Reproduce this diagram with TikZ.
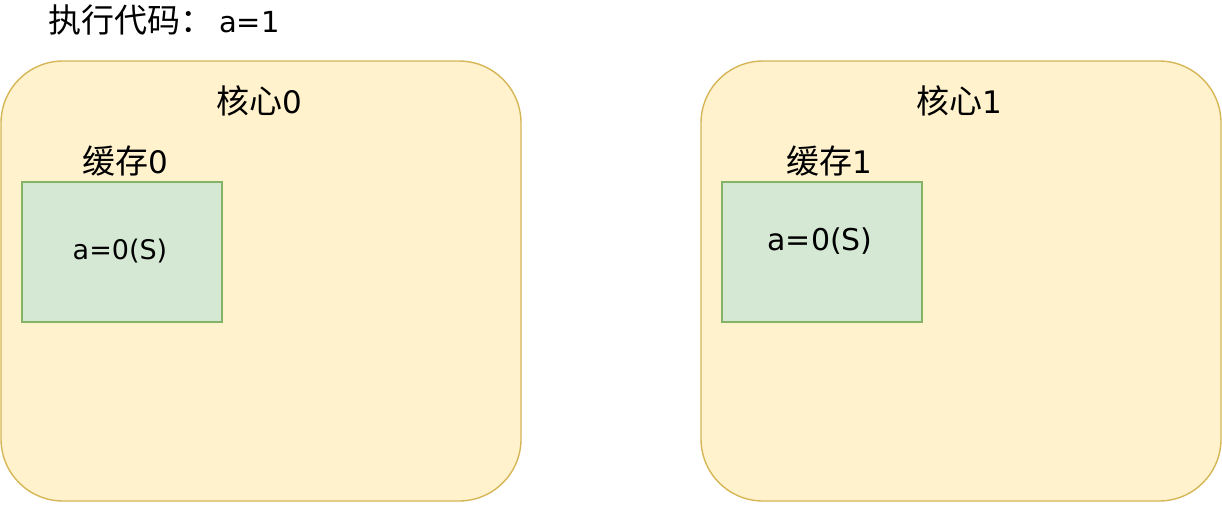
\documentclass[tikz,border=0pt]{standalone}
\usepackage{fontspec}
\setmainfont{Noto Sans CJK SC}
\newfontfamily\lat{DejaVu Sans}
\definecolor{corefill}{HTML}{FFF2CC}
\definecolor{coredraw}{HTML}{D6B656}
\definecolor{cachefill}{HTML}{D5E8D4}
\definecolor{cachedraw}{HTML}{82B366}
\begin{document}
\begin{tikzpicture}[x=1pt,y=-1pt,
  corebox/.style={draw=coredraw,fill=corefill,line width=1.4pt,rounded corners=62pt},
  cachebox/.style={draw=cachedraw,fill=cachefill,line width=1.5pt},
  lbl/.style={inner sep=0pt,font=\fontsize{33}{38}\selectfont,text=black},
  vlbl/.style={inner sep=0pt,text=black}]
\useasboundingbox (0,0) rectangle (1222,504);
\draw[corebox] (1,61) rectangle (521,501);
\draw[corebox] (701,61) rectangle (1221,501);
\node[cachebox,minimum width=200pt,minimum height=140pt,anchor=north west,inner sep=0pt] (c0) at (21,181) {};
\node[cachebox,minimum width=200pt,minimum height=140pt,anchor=north west,inner sep=0pt] (c1) at (721,181) {};
\node[lbl,anchor=west] (code) at (48,20) {执行代码：\kern6pt{\lat\fontsize{29}{32}\selectfont a=1}};
\node[lbl] (k0) at (259,101) {核心{\lat\fontsize{31}{34}\selectfont 0}};
\node[lbl] (k1) at (959,101) {核心{\lat\fontsize{31}{34}\selectfont 1}};
\node[lbl] (h0) at (125,161) {缓存{\lat\fontsize{31}{34}\selectfont 0}};
\node[lbl] (h1) at (829,161) {缓存{\lat\fontsize{31}{34}\selectfont 1}};
\node[vlbl,font=\lat\fontsize{27}{32}\selectfont] (v0) at (120,251) {a=0(S)};
\node[vlbl,font=\lat\fontsize{30}{34}\selectfont] (v1) at (820,241) {a=0(S)};
\end{tikzpicture}
\end{document}
